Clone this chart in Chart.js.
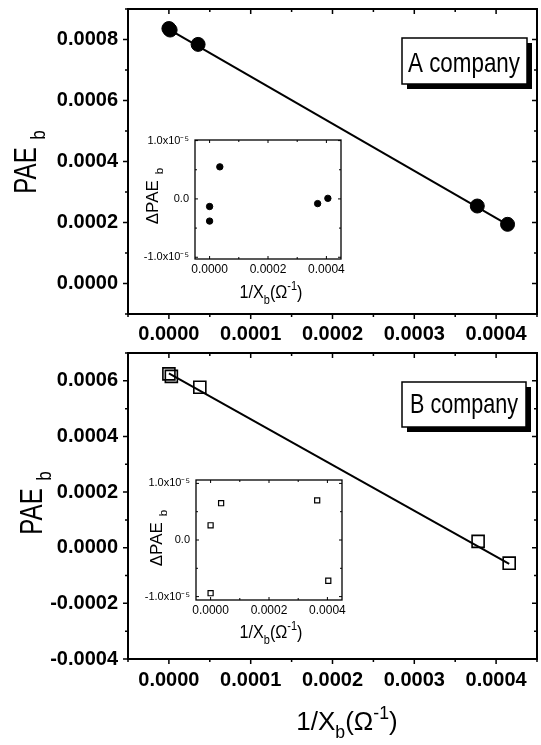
<!DOCTYPE html>
<html>
<head>
<meta charset="utf-8">
<script src="https://cdn.jsdelivr.net/npm/chart.js@4.4.1/dist/chart.umd.min.js"></script>
<style>
  body { margin: 0; background: #fff; }
  #wrap { position: relative; width: 541px; height: 745px; overflow: hidden; }
  #wrap canvas { position: absolute; left: 0; top: 0; }
</style>
</head>
<body>
<div id="wrap">
  <canvas id="topMain" width="541" height="745"></canvas>
  <canvas id="botMain" width="541" height="745"></canvas>
  <canvas id="topInset" width="541" height="745"></canvas>
  <canvas id="botInset" width="541" height="745"></canvas>
</div>
<script>
// A company, main panel (filled circles), first two points overlap at x = 0
const aX = [0.0000, 0.0000015, 0.0000357, 0.000377, 0.000414];
const aY = [0.000836, 0.000831, 0.000784, 0.000254, 0.000194];
const aFitX = [0.0000, 0.000414];
const aFitY = [0.000833, 0.000193];
// A company, inset residuals
const aResX = [0.0000, 0.0000, 0.000035, 0.00037, 0.000405];
const aResY = [-0.13e-5, -0.38e-5, 0.55e-5, -0.08e-5, 0.01e-5];

// B company, main panel (open squares)
const bX = [0.0000, 0.000003, 0.0000378, 0.000378, 0.000416];
const bY = [0.000625, 0.000616, 0.000577, 0.0000227, -0.0000555];
const bFitX = [0.0000, 0.000416];
const bFitY = [0.000627, -0.000058];
// B company, inset residuals
const bResX = [0.0000, 0.000036, 0.0000, 0.000365, 0.000403];
const bResY = [0.26e-5, 0.65e-5, -0.94e-5, 0.70e-5, -0.72e-5];

// tick values / labels
const mainXTicks = [0, 0.0001, 0.0002, 0.0003, 0.0004];
const aYTicks = [0, 0.0002, 0.0004, 0.0006, 0.0008];
const bYTicks = [-0.0004, -0.0002, 0, 0.0002, 0.0004, 0.0006];
const insetXTicks = [0, 0.0002, 0.0004];
const insetYTicks = [-1e-5, 0, 1e-5];
const insetYLabels = ['-1.0x10\u207B\u2075', '0.0', '1.0x10\u207B\u2075'];

const FONT = '"Liberation Sans", Arial, sans-serif';

function fmt4(v) {
  if (Math.abs(v) < 1e-12) return '0.0000';
  return v.toFixed(4);
}

// draws text with sub/superscript parts, optional rotation and horizontal squeeze
function richText(ctx, parts, x, y, size, opt) {
  const weight = opt.weight ? opt.weight + ' ' : '';
  ctx.save();
  ctx.translate(x, y);
  if (opt.rot) ctx.rotate(opt.rot);
  ctx.scale(opt.squeeze || 1, 1);
  let w = 0;
  const items = parts.map(p => {
    const s = p.k ? size * 0.68 : size;
    ctx.font = weight + s + 'px ' + FONT;
    w += (p.gap || 0);
    const it = { t: p.t, s: s, x: w, dy: p.k < 0 ? size * 0.3 : (p.k > 0 ? -size * 0.42 : 0) };
    w += ctx.measureText(p.t).width;
    return it;
  });
  const start = opt.align === 'center' ? -w / 2 : 0;
  ctx.fillStyle = '#000';
  ctx.textBaseline = 'alphabetic';
  items.forEach(it => {
    ctx.font = weight + it.s + 'px ' + FONT;
    ctx.fillText(it.t, start + it.x, it.dy);
  });
  ctx.restore();
}

const frameTicks = {
  id: 'frameTicks',
  afterDatasetsDraw(chart, args, o) {
    const { ctx, chartArea: a } = chart;
    const sx = chart.scales.x, sy = chart.scales.y;
    const marks = (scale, vals) => {
      const step = vals[1] - vals[0];
      const out = [];
      for (let k = -4; k <= 2 * vals.length + 4; k++) {
        const v = vals[0] + k * step / 2;
        if (v < scale.min - 1e-12 || v > scale.max + 1e-12) continue;
        out.push([scale.getPixelForValue(v), k % 2 === 0]);
      }
      return out;
    };
    ctx.save();
    ctx.strokeStyle = '#000';
    ctx.lineWidth = o.width;
    ctx.strokeRect(a.left, a.top, a.right - a.left, a.bottom - a.top);
    ctx.lineWidth = o.tickWidth;
    ctx.beginPath();
    marks(sx, o.xTicks).forEach(([p, major]) => {
      const len = major ? o.major : o.minor;
      ctx.moveTo(p, a.bottom); ctx.lineTo(p, a.bottom + o.out * len);
      ctx.moveTo(p, a.top); ctx.lineTo(p, a.top + len);
    });
    marks(sy, o.yTicks).forEach(([p, major]) => {
      const len = major ? o.major : o.minor;
      ctx.moveTo(a.left, p); ctx.lineTo(a.left - o.out * len, p);
      ctx.moveTo(a.right, p); ctx.lineTo(a.right - len, p);
    });
    ctx.stroke();
    ctx.restore();
  }
};

const labels = {
  id: 'labels',
  afterDraw(chart, args, o) {
    const ctx = chart.ctx;
    (o.boxes || []).forEach(b => {
      ctx.save();
      ctx.fillStyle = '#000';
      ctx.fillRect(b.x + 5, b.y + 5, b.w, b.h);
      ctx.fillStyle = '#fff';
      ctx.fillRect(b.x, b.y, b.w, b.h);
      ctx.strokeStyle = '#000';
      ctx.lineWidth = 1.5;
      ctx.strokeRect(b.x, b.y, b.w, b.h);
      ctx.font = b.size + 'px ' + FONT;
      const tw = ctx.measureText(b.text).width;
      ctx.translate(b.tx, b.ty);
      ctx.scale(b.tw / tw, 1);
      ctx.fillStyle = '#000';
      ctx.fillText(b.text, 0, 0);
      ctx.restore();
    });
    (o.titles || []).forEach(t => richText(ctx, t.parts, t.x, t.y, t.size, t));
  }
};

function panel(id, cfg) {
  const a = cfg.area;
  new Chart(document.getElementById(id), {
    type: 'scatter',
    data: { datasets: cfg.datasets },
    options: {
      responsive: false,
      animation: false,
      events: [],
      layout: {
        autoPadding: false,
        padding: { left: a.l - cfg.yw, top: a.t, right: 541 - a.r, bottom: 745 - a.b - cfg.xh }
      },
      plugins: {
        legend: { display: false },
        tooltip: { enabled: false },
        frameTicks: cfg.frame,
        labels: cfg.labels
      },
      scales: {
        x: {
          type: 'linear', min: cfg.xMin, max: cfg.xMax,
          grid: { display: false, drawTicks: false },
          border: { display: false },
          ticks: { font: { family: FONT, size: cfg.tickSize, weight: cfg.weight }, color: '#000', padding: cfg.xPad,
                   maxRotation: 0, autoSkip: false, callback: v => fmt4(v) },
          afterBuildTicks: s => { s.ticks = cfg.xTicks.map(v => ({ value: v })); },
          afterFit: s => { s.height = cfg.xh; s.paddingLeft = 0; s.paddingRight = 0; }
        },
        y: {
          type: 'linear', min: cfg.yMin, max: cfg.yMax,
          grid: { display: false, drawTicks: false },
          border: { display: false },
          ticks: { font: { family: FONT, size: cfg.yTickSize || cfg.tickSize, weight: cfg.weight }, color: '#000', padding: cfg.yPad,
                   autoSkip: false, callback: cfg.yLabel },
          afterBuildTicks: s => { s.ticks = cfg.yTicks.map(v => ({ value: v })); },
          afterFit: s => { s.width = cfg.yw; s.paddingTop = 0; s.paddingBottom = 0; }
        }
      }
    },
    plugins: [frameTicks, labels]
  });
}

function pts(xs, ys) { return xs.map((x, i) => ({ x: x, y: ys[i] })); }

const pae = [{ t: 'PAE' }, { t: 'b', k: -1, gap: 10 }];
const xTitle = [{ t: '1/X' }, { t: 'b', k: -1 }, { t: '(\u03A9' }, { t: '-1', k: 1 }, { t: ')' }];
const dpae = [{ t: '\u0394PAE' }, { t: 'b', k: -1, gap: 6 }];

// ---- A company main
panel('topMain', {
  area: { l: 128, t: 9, r: 537, b: 314 }, yw: 110, xh: 30,
  xMin: -0.00005, xMax: 0.00045, yMin: -0.0001, yMax: 0.0009,
  xTicks: mainXTicks, yTicks: aYTicks, tickSize: 20, weight: 'bold', xPad: 8, yPad: 10,
  yLabel: v => fmt4(v),
  datasets: [
    { data: pts(aX, aY), pointStyle: 'circle', pointRadius: 7, backgroundColor: '#000', borderColor: '#000', borderWidth: 1 },
    { data: pts(aFitX, aFitY), showLine: true, pointRadius: 0, borderColor: '#000', borderWidth: 2 }
  ],
  frame: { width: 2, tickWidth: 1.5, major: 5, minor: 3, out: 1, xTicks: mainXTicks, yTicks: aYTicks },
  labels: {
    boxes: [{ x: 402, y: 38, w: 125, h: 46, text: 'A company', size: 28, tx: 408, ty: 72, tw: 112 }],
    titles: [{ parts: pae, x: 36, y: 162, size: 31, rot: -Math.PI / 2, squeeze: 0.78, align: 'center' }]
  }
});

// ---- B company main
panel('botMain', {
  area: { l: 128, t: 353, r: 537, b: 659 }, yw: 110, xh: 30,
  xMin: -0.00005, xMax: 0.00045, yMin: -0.0004, yMax: 0.0007,
  xTicks: mainXTicks, yTicks: bYTicks, tickSize: 20, weight: 'bold', xPad: 9, yPad: 10,
  yLabel: v => fmt4(v),
  datasets: [
    { data: pts(bX, bY), pointStyle: 'rect', pointRadius: 8.5, backgroundColor: 'rgba(0,0,0,0)', borderColor: '#000', borderWidth: 1.6 },
    { data: pts(bFitX, bFitY), showLine: true, pointRadius: 0, borderColor: '#000', borderWidth: 2 }
  ],
  frame: { width: 2, tickWidth: 1.5, major: 5, minor: 3, out: 1, xTicks: mainXTicks, yTicks: bYTicks },
  labels: {
    boxes: [{ x: 402, y: 382, w: 124, h: 45, text: 'B company', size: 28, tx: 410, ty: 413, tw: 108 }],
    titles: [
      { parts: pae, x: 42, y: 503, size: 31, rot: -Math.PI / 2, squeeze: 0.78, align: 'center' },
      { parts: xTitle, x: 347, y: 730, size: 26, align: 'center' }
    ]
  }
});

// ---- A company inset
panel('topInset', {
  area: { l: 195, t: 140, r: 341, b: 259 }, yw: 60, xh: 20,
  xMin: -0.00005, xMax: 0.00045, yMin: -1.03e-5, yMax: 1.01e-5,
  xTicks: insetXTicks, yTicks: insetYTicks, tickSize: 12, yTickSize: 11, xPad: 3, yPad: 6,
  yLabel: (v, i) => insetYLabels[i],
  datasets: [
    { data: pts(aResX, aResY), pointStyle: 'circle', pointRadius: 3.2, backgroundColor: '#000', borderColor: '#000', borderWidth: 1 }
  ],
  frame: { width: 1.3, tickWidth: 1, major: 3, minor: 2, out: -1, xTicks: insetXTicks, yTicks: insetYTicks },
  labels: {
    titles: [
      { parts: dpae, x: 158, y: 196, size: 17, rot: -Math.PI / 2, align: 'center' },
      { parts: xTitle, x: 271, y: 298, size: 19, squeeze: 0.85, align: 'center' }
    ]
  }
});

// ---- B company inset
panel('botInset', {
  area: { l: 196, t: 480, r: 342, b: 600 }, yw: 60, xh: 20,
  xMin: -0.00005, xMax: 0.00045, yMin: -1.06e-5, yMax: 1.06e-5,
  xTicks: insetXTicks, yTicks: insetYTicks, tickSize: 12, yTickSize: 11, xPad: 3, yPad: 6,
  yLabel: (v, i) => insetYLabels[i],
  datasets: [
    { data: pts(bResX, bResY), pointStyle: 'rect', pointRadius: 3.6, backgroundColor: 'rgba(0,0,0,0)', borderColor: '#000', borderWidth: 1.2 }
  ],
  frame: { width: 1.3, tickWidth: 1, major: 3, minor: 2, out: -1, xTicks: insetXTicks, yTicks: insetYTicks },
  labels: {
    titles: [
      { parts: dpae, x: 162, y: 538, size: 17, rot: -Math.PI / 2, align: 'center' },
      { parts: xTitle, x: 271, y: 638, size: 19, squeeze: 0.85, align: 'center' }
    ]
  }
});
</script>
</body>
</html>
